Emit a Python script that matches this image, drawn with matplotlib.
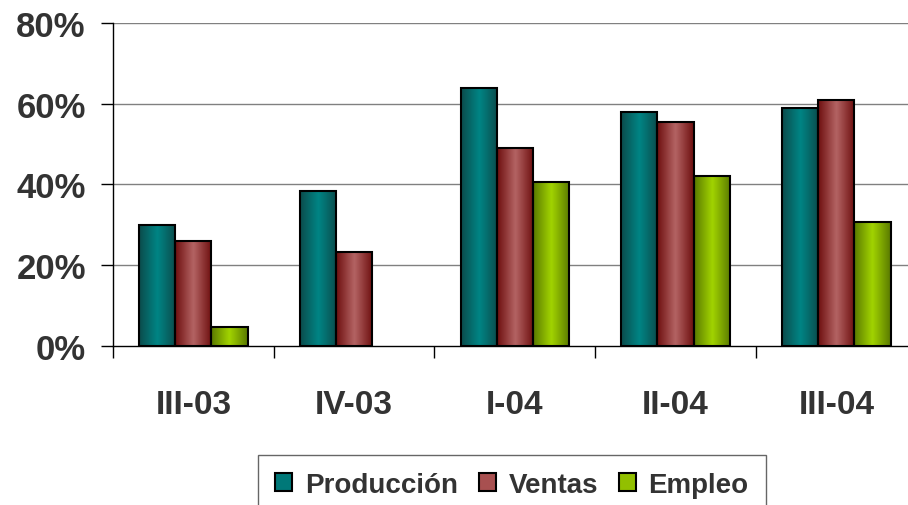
import numpy as np
import matplotlib
matplotlib.use("Agg")
import matplotlib.pyplot as plt
from matplotlib.colors import LinearSegmentedColormap
from matplotlib.patches import Patch

plt.rcParams['font.family'] = ['Liberation Sans', 'DejaVu Sans']
plt.rcParams['font.weight'] = 'bold'

periodos = ['III-03', 'IV-03', 'I-04', 'II-04', 'III-04']
produccion = [30, 38.5, 64, 58, 59]
ventas = [26, 23.3, 49, 55.5, 61]
empleo = [4.6, np.nan, 40.6, 42, 30.7]

series = [
    ('Producción', produccion, ('#0b4c4c', '#008585', '#0b4c4c'), '#007878'),
    ('Ventas', ventas, ('#6e0f0f', '#b46464', '#6e0f0f'), '#a85050'),
    ('Empleo', empleo, ('#5a7a00', '#a2d400', '#5a7a00'), '#92c000'),
]

fig = plt.figure(figsize=(9.08, 5.06), dpi=100)
ax = fig.add_axes([0.1245, 0.3142, 0.885, 0.6384])

x = np.arange(len(periodos))
ancho = 0.225
grad = np.linspace(0, 1, 64).reshape(1, -1)

for i, (nombre, vals, tonos, _) in enumerate(series):
    cmap = LinearSegmentedColormap.from_list(nombre, tonos)
    barras = ax.bar(x + (i - 1) * ancho, vals, ancho, facecolor='none',
                    edgecolor='black', linewidth=1.5, zorder=3)
    for b in barras:
        h = b.get_height()
        if not np.isfinite(h) or h <= 0:
            b.set_visible(False)
            continue
        x0 = b.get_x()
        ax.imshow(grad, cmap=cmap, aspect='auto', zorder=2,
                  extent=[x0, x0 + b.get_width(), 0, h], interpolation='bicubic')

ax.set_xlim(-0.5, len(periodos) - 0.5)
ax.set_ylim(0, 80)

for v in [20, 40, 60, 80]:
    ax.axhline(v, color='#808080', linewidth=1, zorder=1)

for s in ['top', 'right']:
    ax.spines[s].set_visible(False)
for s in ['left', 'bottom']:
    ax.spines[s].set_color('black')
    ax.spines[s].set_linewidth(1)

ax.set_yticks([0, 20, 40, 60, 80])
ax.set_yticklabels(['0%', '20%', '40%', '60%', '80%'])
ax.set_xticks(x)
ax.set_xticklabels(periodos)
ax.set_xticks(np.arange(-0.5, len(periodos)), minor=True)

ax.tick_params(axis='y', length=8.6, width=1, pad=11, labelsize=25,
               labelcolor='#333333')
ax.tick_params(axis='x', which='major', length=0, pad=31, labelsize=24,
               labelcolor='#333333')
ax.tick_params(axis='x', which='minor', length=8.6, width=1)

handles = [Patch(facecolor=c, edgecolor='black', linewidth=1.5, label=n)
           for n, _, _, c in series]
leg = fig.legend(handles=handles, loc='upper center',
                 bbox_to_anchor=(512 / 908, 1 - 456 / 506), ncol=3,
                 fontsize=20, frameon=True, fancybox=False, borderaxespad=0,
                 handlelength=0.62, handleheight=0.62, handletextpad=0.45,
                 columnspacing=0.75, borderpad=0.62)
leg.get_frame().set_edgecolor('#404040')
leg.get_frame().set_linewidth(1)
for t in leg.get_texts():
    t.set_color('#333333')

fig.savefig('out.png', dpi=100)
